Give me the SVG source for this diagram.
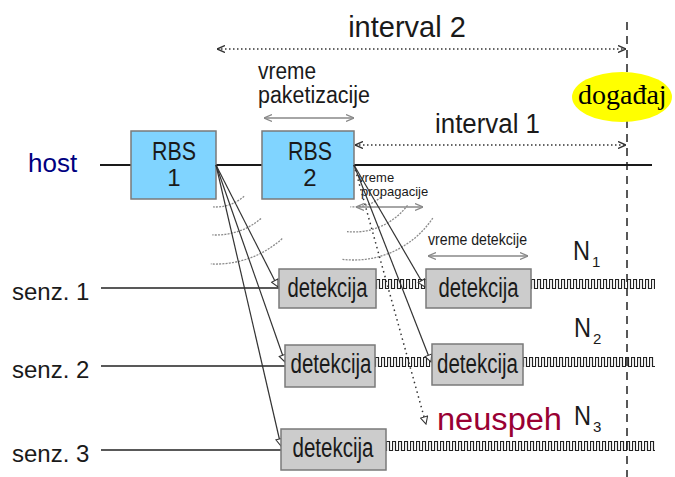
<svg xmlns="http://www.w3.org/2000/svg" width="675" height="477" viewBox="0 0 675 477">
<style>
text{font-family:"Liberation Sans",Arial,sans-serif;fill:#1a1a1a}
text.serif{font-family:"Liberation Serif","Times New Roman",serif;fill:#000}
.rbs rect{fill:#80d4ff;stroke:#7a7a7a;stroke-width:1.5}
.det rect{fill:#cccccc;stroke:#7a7a7a;stroke-width:1.5}
.ln{stroke:#1a1a1a;stroke-width:2;fill:none}
.gr{stroke:#888;stroke-width:1.3;fill:none;marker-start:url(#gv);marker-end:url(#gv)}
.dot{stroke:#333;stroke-width:1.5;stroke-dasharray:1.5 2.5;fill:none;marker-start:url(#dv);marker-end:url(#dv)}
.arc{stroke:#8a8a8a;stroke-width:1.3;stroke-dasharray:2 1.2;fill:none}
.sig{stroke:#333;stroke-width:1.2;fill:none;marker-end:url(#tri)}
</style>
<defs>
<marker id="gv" viewBox="0 0 8 8" refX="8" refY="4" markerWidth="8" markerHeight="8" markerUnits="userSpaceOnUse" orient="auto-start-reverse"><path d="M0,0.5 L8,4 L0,7.5" fill="none" stroke="#888" stroke-width="1.2"/></marker>
<marker id="dv" viewBox="0 0 8 8" refX="8" refY="4" markerWidth="8" markerHeight="8" markerUnits="userSpaceOnUse" orient="auto-start-reverse"><path d="M0,0.5 L8,4 L0,7.5" fill="none" stroke="#333" stroke-width="1.4"/></marker>
<marker id="tri" viewBox="0 0 10 10" refX="9" refY="5" markerWidth="9" markerHeight="9" markerUnits="userSpaceOnUse" orient="auto"><path d="M1,1 L9,5 L1,9 Z" fill="#fff" stroke="#333" stroke-width="1.2"/></marker>
<pattern id="wave" patternUnits="userSpaceOnUse" width="6" height="12"><path d="M0 10.5 H0.5 V1.5 H3.5 V10.5 H6" fill="none" stroke="#222" stroke-width="1.2"/></pattern>
</defs>

<!-- event line -->
<line x1="627" y1="22" x2="627" y2="477" stroke="#222" stroke-width="1.5" stroke-dasharray="8 6"/>

<!-- intervals -->
<g id="interval2">
<text x="407" y="37" font-size="29" text-anchor="middle">interval 2</text>
<line class="dot" x1="217" y1="49" x2="626" y2="49"/>
</g>
<g id="interval1">
<text x="435" y="133" font-size="27" textLength="105" lengthAdjust="spacingAndGlyphs">interval 1</text>
<line class="dot" x1="355" y1="145" x2="626" y2="145"/>
</g>
<g id="event">
<ellipse cx="622" cy="97" rx="50" ry="25" fill="#ffff00"/>
<text class="serif" x="578" y="104" font-size="28">događaj</text>
</g>
<g id="pak">
<text x="258" y="79" font-size="23" textLength="58" lengthAdjust="spacingAndGlyphs">vreme</text>
<text x="258" y="103" font-size="23" textLength="112" lengthAdjust="spacingAndGlyphs">paketizacije</text>
<line class="gr" x1="264" y1="118" x2="354" y2="118"/>
</g>

<!-- host -->
<g id="host">
<text x="28" y="172" font-size="26" style="fill:#000080">host</text>
<line class="ln" x1="100" y1="165" x2="652" y2="165"/>
</g>

<!-- sensor lines -->
<g id="sensors">
<text x="12" y="300" font-size="24">senz. 1</text>
<text x="12" y="378" font-size="24">senz. 2</text>
<text x="12" y="462" font-size="24">senz. 3</text>
<line x1="101" y1="288" x2="279" y2="288" stroke="#222" stroke-width="1.5"/>
<line x1="101" y1="366" x2="285" y2="366" stroke="#222" stroke-width="1.5"/>
<line x1="101" y1="450" x2="281" y2="450" stroke="#222" stroke-width="1.5"/>
</g>

<!-- waves -->
<g id="waves">
<g transform="translate(376,278)"><rect width="50" height="12" fill="url(#wave)"/></g>
<g transform="translate(531,278)"><rect width="124" height="12" fill="url(#wave)"/></g>
<g transform="translate(375,356)"><rect width="57" height="12" fill="url(#wave)"/></g>
<g transform="translate(523,356)"><rect width="132" height="12" fill="url(#wave)"/></g>
<g transform="translate(386,440)"><rect width="269" height="12" fill="url(#wave)"/></g>
</g>

<!-- propagation arcs -->
<g id="arcs">
<path class="arc" d="M244.1,196.2 A42,42 0 0 1 213.1,206.9"/>
<path class="arc" d="M261.0,218.6 A70,70 0 0 1 212.3,234.9"/>
<path class="arc" d="M282.2,238.6 A99,99 0 0 1 210.8,263.9"/>
<path class="arc" d="M381.0,197.2 A42,42 0 0 1 350.3,206.8"/>
<path class="arc" d="M407.5,205.3 A67,67 0 0 1 347.0,231.6"/>
<path class="arc" d="M432.8,218.1 A95,95 0 0 1 342.4,259.3"/>
</g>

<!-- RBS boxes -->
<g id="rbs1" class="rbs">
<rect x="131" y="131" width="85" height="68"/>
<text x="174" y="160" font-size="25" text-anchor="middle" textLength="44" lengthAdjust="spacingAndGlyphs">RBS</text>
<text x="174" y="186" font-size="24" text-anchor="middle">1</text>
</g>
<g id="rbs2" class="rbs">
<rect x="262" y="131" width="92" height="68"/>
<text x="310" y="160" font-size="25" text-anchor="middle" textLength="44" lengthAdjust="spacingAndGlyphs">RBS</text>
<text x="310" y="186" font-size="24" text-anchor="middle">2</text>
</g>

<!-- propagation / detection labels -->
<g id="prop">
<text x="358" y="182" font-size="13" fill="#333">vreme</text>
<text x="361" y="196" font-size="13" fill="#333">propagacije</text>
<line class="gr" x1="356" y1="207" x2="423" y2="207"/>
</g>
<g id="detlabel">
<text x="428" y="245" font-size="17" textLength="99" lengthAdjust="spacingAndGlyphs">vreme detekcije</text>
<line class="gr" x1="428" y1="256" x2="528" y2="256"/>
</g>

<!-- connectors -->
<g id="connectors">
<line class="sig" x1="216" y1="165" x2="278" y2="287"/>
<line class="sig" x1="216" y1="165" x2="285" y2="362"/>
<line class="sig" x1="216" y1="165" x2="281" y2="446"/>
<line class="sig" x1="354" y1="165" x2="425" y2="287"/>
<line class="sig" x1="354" y1="165" x2="431" y2="362"/>
<line x1="354" y1="165" x2="426" y2="424" stroke="#333" stroke-width="1.5" stroke-dasharray="1.5 3.5" fill="none" marker-end="url(#tri)"/>
</g>

<!-- detection boxes -->
<g id="det11" class="det"><rect x="279" y="269" width="97" height="39"/><text x="327.5" y="297" font-size="27" text-anchor="middle" textLength="80" lengthAdjust="spacingAndGlyphs">detekcija</text></g>
<g id="det12" class="det"><rect x="426" y="269" width="105" height="39"/><text x="478.5" y="297" font-size="27" text-anchor="middle" textLength="80" lengthAdjust="spacingAndGlyphs">detekcija</text></g>
<g id="det21" class="det"><rect x="285" y="345" width="90" height="42"/><text x="331" y="373" font-size="27" text-anchor="middle" textLength="81" lengthAdjust="spacingAndGlyphs">detekcija</text></g>
<g id="det22" class="det"><rect x="432" y="344" width="91" height="41"/><text x="477.5" y="373" font-size="27" text-anchor="middle" textLength="81" lengthAdjust="spacingAndGlyphs">detekcija</text></g>
<g id="det3" class="det"><rect x="281" y="429" width="105" height="41"/><text x="333" y="457" font-size="27" text-anchor="middle" textLength="81" lengthAdjust="spacingAndGlyphs">detekcija</text></g>

<!-- labels N -->
<g id="n1"><text x="573" y="260" font-size="27" textLength="17" lengthAdjust="spacingAndGlyphs">N</text><text x="592" y="267" font-size="15">1</text></g>
<g id="n2"><text x="574" y="337" font-size="27" textLength="17" lengthAdjust="spacingAndGlyphs">N</text><text x="593" y="344" font-size="15">2</text></g>
<g id="n3"><text x="574" y="425" font-size="27" textLength="17" lengthAdjust="spacingAndGlyphs">N</text><text x="593" y="432" font-size="15">3</text></g>

<g id="neuspeh"><text x="437" y="430" font-size="31" textLength="125" lengthAdjust="spacingAndGlyphs" style="fill:#990033">neuspeh</text></g>
</svg>
